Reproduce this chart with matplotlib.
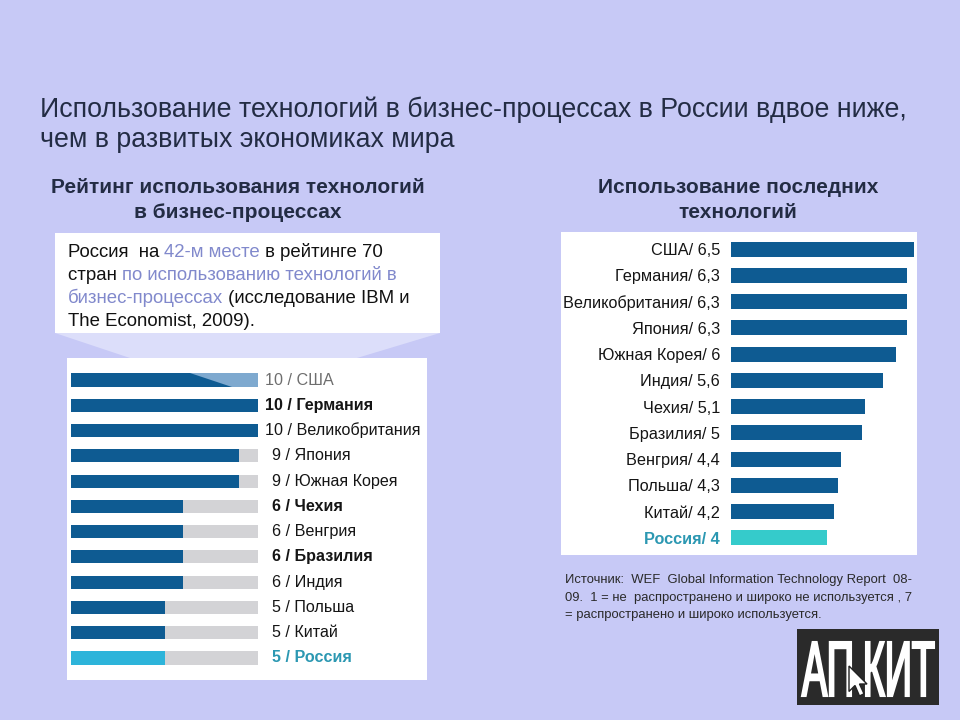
import matplotlib
matplotlib.use('Agg')
import matplotlib.pyplot as plt
from matplotlib.patches import Rectangle, Polygon, PathPatch
from matplotlib.textpath import TextPath
from matplotlib.font_manager import FontProperties
from matplotlib.transforms import Affine2D

plt.rcParams['font.family'] = ['Liberation Sans', 'DejaVu Sans']

# ---------------- data ----------------
rank_countries = ['США', 'Германия', 'Великобритания', 'Япония', 'Южная Корея', 'Чехия',
                  'Венгрия', 'Бразилия', 'Индия', 'Польша', 'Китай', 'Россия']
rank_scores = [10, 10, 10, 9, 9, 6, 6, 6, 6, 5, 5, 5]
rank_max = 10
rank_bold = ['Германия', 'Чехия', 'Бразилия', 'Россия']

tech_countries = ['США', 'Германия', 'Великобритания', 'Япония', 'Южная Корея', 'Индия',
                  'Чехия', 'Бразилия', 'Венгрия', 'Польша', 'Китай', 'Россия']
tech_values = [6.5, 6.3, 6.3, 6.3, 6.0, 5.6, 5.1, 5.0, 4.4, 4.3, 4.2, 4.0]

title_lines = ['Использование технологий в бизнес-процессах в России вдвое ниже,',
               'чем в развитых экономиках мира']
left_subtitle = ['Рейтинг использования технологий', 'в бизнес-процессах']
right_subtitle = ['Использование последних', 'технологий']
callout_lines = [
    [('Россия  на ', 0), ('42-м месте', 1), (' в рейтинге 70', 0)],
    [('стран ', 0), ('по использованию технологий в', 1)],
    [('бизнес-процессах', 1), (' (исследование IBM и', 0)],
    [('The Economist, 2009).', 0)],
]
source_lines = ['Источник:  WEF  Global Information Technology Report  08-',
                '09.  1 = не  распространено и широко не используется , 7',
                '= распространено и широко используется.']

# ---------------- colors ----------------
BG = '#C7C9F6'
DARK = '#0E5B92'
TRACK = '#D3D3D6'
LIGHT = '#7EA9CF'
RUS_L = '#2DB4DA'
RUS_R = '#35CBCB'
RUS_TXT = '#2C98B2'
TITLE_C = '#232C44'
CALL_BLUE = '#8189CC'

W, H = 960, 720
fig = plt.figure(figsize=(9.6, 7.2), dpi=100, facecolor=BG)

# background / decoration axes in pixel coordinates
bg = fig.add_axes([0, 0, 1, 1])
bg.set_xlim(0, W)
bg.set_ylim(H, 0)
bg.axis('off')
bg.set_zorder(0)
bg.set_facecolor(BG)


def px_axes(x0, y0, x1, y1):
    return fig.add_axes([x0 / W, 1 - y1 / H, (x1 - x0) / W, (y1 - y0) / H])


# panels
bg.add_patch(Polygon([(55, 333), (440, 333), (357, 358), (130, 358)], closed=True,
                     facecolor='#DCDEFA', edgecolor='none'))
bg.add_patch(Rectangle((55, 233), 385, 100, facecolor='white', edgecolor='none'))
bg.add_patch(Rectangle((67, 358), 360, 322, facecolor='white', edgecolor='none'))
bg.add_patch(Rectangle((561, 232), 356, 323, facecolor='white', edgecolor='none'))

# title
for i, line in enumerate(title_lines):
    bg.text(40, 117 + 30 * i, line, fontsize=19.3, color=TITLE_C, va='baseline', ha='left')

# subtitles
for i, line in enumerate(left_subtitle):
    bg.text(238, 193 + 25 * i, line, fontsize=15, fontweight='bold', color=TITLE_C,
            va='baseline', ha='center')
for i, line in enumerate(right_subtitle):
    bg.text(738, 193 + 25 * i, line, fontsize=15, fontweight='bold', color=TITLE_C,
            va='baseline', ha='center')

# callout text with coloured segments
renderer = fig.canvas.get_renderer()
CALL_FS = 13.4


def text_width(s, **kw):
    t = bg.text(0, 0, s, **kw)
    w = t.get_window_extent(renderer).width
    t.remove()
    return w


bar_w = text_width('|', fontsize=CALL_FS)
for i, segs in enumerate(callout_lines):
    yb = 257 + 23 * i
    prefix = ''
    for s, c in segs:
        off = text_width(prefix + '|', fontsize=CALL_FS) - bar_w if prefix else 0
        bg.text(68 + off, yb, s, fontsize=CALL_FS, color=(CALL_BLUE if c else '#111111'),
                va='baseline', ha='left')
        prefix += s

# source text
for i, line in enumerate(source_lines):
    bg.text(565, 583 + 17.5 * i, line, fontsize=9.4, color='#2A2A2A', va='baseline', ha='left')

# ---------------- left chart ----------------
ax1 = px_axes(71, 367.4, 258, 670.6)
ax1.set_zorder(1)
ax1.patch.set_alpha(0)
n1 = len(rank_countries)
ys1 = list(range(n1))
bh1 = 0.52
ax1.barh(ys1, [rank_max] * n1, height=bh1, color=TRACK, edgecolor='none')
cols1 = [RUS_L if c == 'Россия' else DARK for c in rank_countries]
ax1.barh(ys1, rank_scores, height=bh1, color=cols1, edgecolor='none')
# lighter wedge at the end of the first bar
v0 = rank_scores[0]
ax1.add_patch(Polygon([(0.636 * v0, -bh1 / 2), (v0, -bh1 / 2), (v0, bh1 / 2), (0.861 * v0, bh1 / 2)],
                      closed=True, facecolor=LIGHT, edgecolor='none'))
ax1.set_xlim(0, rank_max)
ax1.set_ylim(n1 - 0.5, -0.5)
ax1.axis('off')
for y, c, s in zip(ys1, rank_countries, rank_scores):
    xx = 10.37 if s >= 10 else 10.75
    if c == 'США':
        color = '#6E6E6E'
    elif c == 'Россия':
        color = RUS_TXT
    else:
        color = '#151515'
    ax1.text(xx, y, f'{s} / {c}', fontsize=11.6, color=color, va='center', ha='left',
             fontweight=('bold' if c in rank_bold else 'normal'), clip_on=False)

# ---------------- right chart ----------------
ax2 = px_axes(731, 235.9, 917, 551.1)
ax2.set_zorder(1)
ax2.patch.set_alpha(0)
n2 = len(tech_countries)
ys2 = list(range(n2))
cols2 = [RUS_R if c == 'Россия' else DARK for c in tech_countries]
ax2.barh(ys2, tech_values, height=0.57, color=cols2, edgecolor='none')
ax2.set_xlim(1.2, 6.6)
ax2.set_ylim(n2 - 0.5, -0.5)
for s in ax2.spines.values():
    s.set_visible(False)
ax2.set_xticks([])
ax2.set_yticks(ys2)
ax2.set_yticklabels([f"{c}/ {v:g}".replace('.', ',') for c, v in zip(tech_countries, tech_values)],
                    fontsize=11.7)
ax2.tick_params(axis='y', length=0, pad=8)
for lab, c in zip(ax2.get_yticklabels(), tech_countries):
    if c == 'Россия':
        lab.set_color(RUS_TXT)
        lab.set_fontweight('bold')
    else:
        lab.set_color('#151515')

# ---------------- logo ----------------
bg.add_patch(Rectangle((797, 629), 142, 76, facecolor='#2A2A2A', edgecolor='none', zorder=2))
fp = FontProperties(family='Liberation Sans', weight='normal')


def stretched_text(s, x0, x1, y_top, y_bot):
    tp = TextPath((0, 0), s, size=1, prop=fp)
    ext = tp.get_extents()
    sx = (x1 - x0) / ext.width
    sy = (y_bot - y_top) / ext.height
    tr = Affine2D().translate(-ext.x0, -ext.y0).scale(sx, -sy).translate(x0, y_bot)
    bg.add_patch(PathPatch(tr.transform_path(tp), facecolor='white', edgecolor='white',
                           linewidth=1.5, zorder=3))


stretched_text('АП', 802, 851, 642, 696)
stretched_text('КИТ', 866, 934, 642, 696)
cur = [(0, 0), (0, 17), (4, 13), (7, 20), (10, 18.5), (7, 12), (12, 12)]
bg.add_patch(Polygon([(849 + 1.5 * a, 666 + 1.5 * b) for a, b in cur], closed=True,
                     facecolor='white', edgecolor='#222222', linewidth=1, zorder=4))

fig.savefig('out.png', dpi=100, facecolor=BG)
